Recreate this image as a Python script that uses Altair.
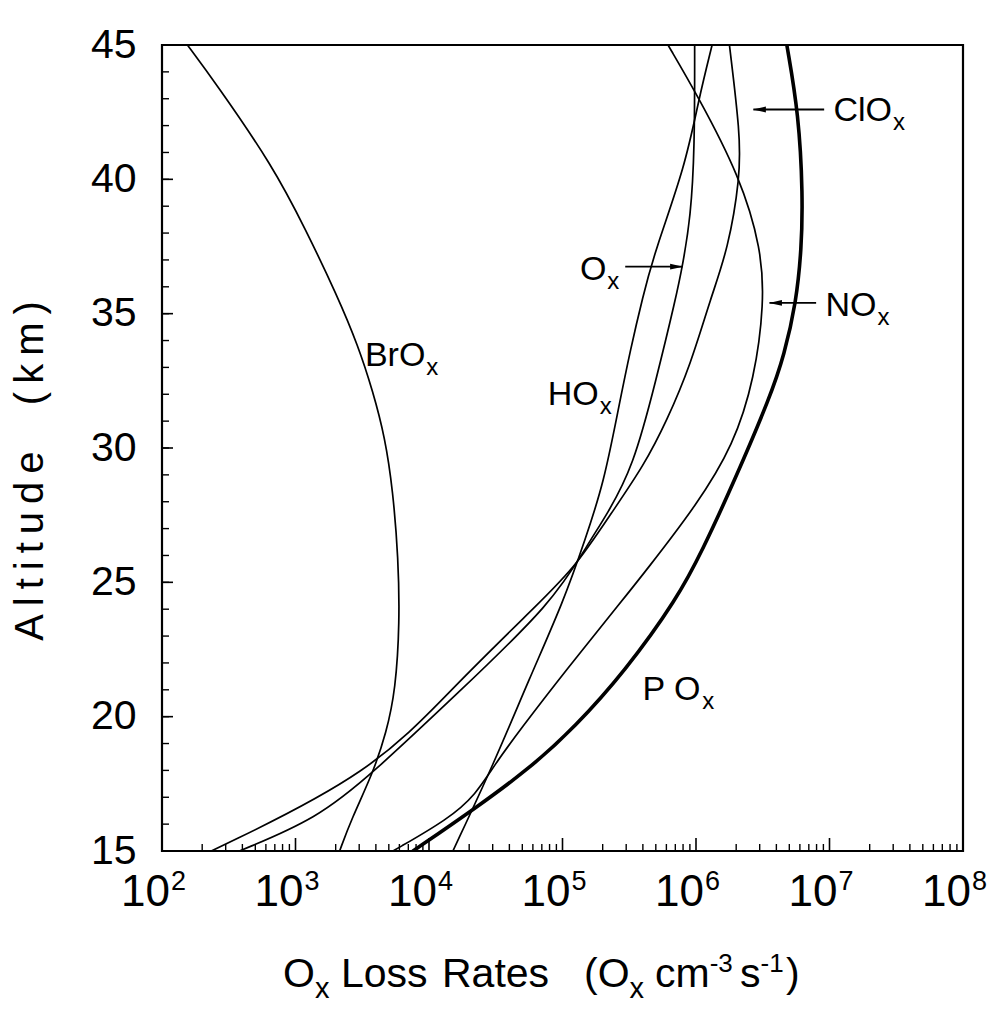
import altair as alt
import pandas as pd

# ---------------- data ----------------
brox_alt = [45, 43.6, 40.5, 38.1, 35.7, 33.8, 32.1, 30.4, 28.4, 25.9, 23.5, 21.0, 19.4, 17.9, 16.2, 15]
brox_rate = [155, 251, 676, 1200, 2040, 2950, 3800, 4680, 5370, 5890, 6030, 5620, 4790, 3800, 2630, 2140]

hox_alt = [15, 18.3, 21.4, 24.3, 26.6, 28.7, 31.5, 33.7, 35.6, 37.3, 40.5, 43.0, 45]
hox_rate = [15100, 30900, 56200, 102000, 148000, 204000, 263000, 324000, 398000, 490000, 832000, 1050000, 1320000]

ox_alt = [15, 16.2, 17.9, 20.8, 24.25, 26.5, 27.5, 29.3, 32.5, 35.6, 36.8, 38.6, 41.1, 45]
ox_rate = [380, 1450, 3800, 15800, 85100, 158000, 214000, 339000, 501000, 708000, 794000, 912000, 977000, 977000]

clox_alt = [15, 17.9, 21.2, 24.3, 25.6, 27.6, 29.35, 31.0, 33.1, 35.6, 37.4, 40.1, 41.7, 45]
clox_rate = [234, 3800, 15800, 69200, 126000, 234000, 407000, 603000, 912000, 1290000, 1740000, 2140000, 2140000, 1780000]

nox_alt = [15, 16.2, 17.1, 18.2, 19.5, 21.7, 24.4, 25.4, 27.9, 30.1, 32.6, 35.4, 37.4, 40.1, 43.15, 45]
nox_rate = [5370, 14100, 22400, 30900, 47900, 105000, 288000, 417000, 1020000, 1910000, 2750000, 3240000, 3090000, 2140000, 1020000, 617000]

pox_alt = [15, 16.6, 18.1, 19.6, 21.7, 24.4, 26.2, 28.7, 31.95, 33.45, 35.4, 37.4, 39.4, 42.4, 45]
pox_rate = [7590, 22400, 57500, 123000, 295000, 724000, 1120000, 1910000, 3630000, 4570000, 5620000, 6170000, 6310000, 5890000, 4790000]

# curve labels: (main text, subscript, rate, altitude)
curve_labels = [
    ("BrO", "x", 3310, 33.5),
    ("HO", "x", 77600, 32.05),
    ("O", "x", 135000, 36.7),
    ("NO", "x", 9330000, 35.35),
    ("ClO", "x", 10700000, 42.6),
    ("P O", "x", 398000, 21.05),
]
# pointer arrows: (rate at tail, rate at tip, altitude)
arrows = [
    (295000, 794000, 36.75),
    (7940000, 3550000, 35.4),
    (9120000, 2690000, 42.6),
]

x_major = [1e2, 1e3, 1e4, 1e5, 1e6, 1e7, 1e8]
x_exp = ["2", "3", "4", "5", "6", "7", "8"]
x_minor = [k * 10 ** n for n in range(2, 8) for k in range(2, 10)]
y_major = [15, 20, 25, 30, 35, 40, 45]
y_minor = [v for v in range(15, 46)]

x_title_runs = [("O", "main", 283), ("x", "sub", None), ("Loss", "main", 341), ("Rates", "main", 442),
                ("(O", "main", 584), ("x", "sub", None), ("cm", "main", 655), ("-3", "sup", None),
                ("s", "main", 740), ("-1", "sup", None), (")", "main", 786)]
y_title = "Altitude  (km)"

# ---------------- layout / style ----------------
W, H = 801, 806
LEFT, TOP = 162, 45
FONT = "Liberation Sans"
AW = {' ': 278, '(': 333, ')': 333, '-': 333, 'A': 667, 'B': 667, 'C': 722, 'H': 722,
      'L': 556, 'N': 722, 'O': 778, 'P': 667, 'R': 722, 'a': 556, 'c': 500, 'd': 556,
      'e': 556, 'i': 222, 'k': 500, 'l': 222, 'm': 833, 'o': 556, 'r': 333, 's': 500,
      't': 278, 'u': 556, 'x': 500}
for d in "0123456789":
    AW[d] = 556


def tw(s, fs):
    return sum(AW.get(c, 556) for c in s) * fs / 1000.0


xs = alt.Scale(type="log", domain=[1e2, 1e8], nice=False)
ys = alt.Scale(domain=[15, 45], nice=False, zero=False)

rows = []
for name, a_list, r_list, w in [
    ("BrOx", brox_alt, brox_rate, 1.7), ("HOx", hox_alt, hox_rate, 1.7),
    ("Ox", ox_alt, ox_rate, 1.7), ("ClOx", clox_alt, clox_rate, 1.7),
    ("NOx", nox_alt, nox_rate, 1.7), ("POx", pox_alt, pox_rate, 3.6)]:
    for a, r in zip(a_list, r_list):
        rows.append({"sp": name, "alt": a, "rate": r, "w": w})
df = pd.DataFrame(rows)

layers = []

lines = alt.Chart(df).mark_line(color="black", interpolate="basis", clip=True,
                                strokeCap="round", strokeJoin="round").encode(
    x=alt.X("rate:Q", scale=xs, axis=None),
    y=alt.Y("alt:Q", scale=ys, axis=alt.Axis(values=y_major, labelFontSize=41, labelFont=FONT,
                                              labelColor="black", labelPadding=26, ticks=False,
                                              domain=False, grid=False, title=None,
                                              labelFlush=False, labelOverlap=False)),
    detail="sp:N",
    order=alt.Order("alt:Q"),
    strokeWidth=alt.StrokeWidth("w:Q", scale=None, legend=None),
)
layers.append(lines)

# inward ticks
tick_x_major = alt.Chart(pd.DataFrame({"v": x_major})).mark_rule(color="black", strokeWidth=1.6).encode(
    x=alt.X("v:Q", scale=xs), y=alt.value(H), y2=alt.value(H - 13))
tick_x_minor = alt.Chart(pd.DataFrame({"v": x_minor})).mark_rule(color="black", strokeWidth=1.4).encode(
    x=alt.X("v:Q", scale=xs), y=alt.value(H), y2=alt.value(H - 7))
tick_y_major = alt.Chart(pd.DataFrame({"v": y_major})).mark_rule(color="black", strokeWidth=1.6).encode(
    y=alt.Y("v:Q", scale=ys), x=alt.value(0), x2=alt.value(11))
tick_y_minor = alt.Chart(pd.DataFrame({"v": y_minor})).mark_rule(color="black", strokeWidth=1.4).encode(
    y=alt.Y("v:Q", scale=ys), x=alt.value(0), x2=alt.value(7))
layers += [tick_x_major, tick_x_minor, tick_y_major, tick_y_minor]

# x tick labels 10^n
xl = pd.DataFrame({"v": x_major, "base": ["10"] * len(x_major), "sup": x_exp})
BF, SUPF = 44, 27
base_w = tw("10", BF)
sup_w = tw("2", SUPF)
shift = (base_w + sup_w) / 2 - sup_w - 9
layers.append(alt.Chart(xl).mark_text(font=FONT, fontSize=BF, align="right", baseline="alphabetic",
                                      dx=shift, color="black").encode(
    x=alt.X("v:Q", scale=xs), y=alt.value(H + 55), text="base:N"))
layers.append(alt.Chart(xl).mark_text(font=FONT, fontSize=SUPF, align="left", baseline="alphabetic",
                                      dx=shift + 1, color="black").encode(
    x=alt.X("v:Q", scale=xs), y=alt.value(H + 39), text="sup:N"))

# curve labels with subscripts
LF, SF = 34, 24
for main, sub, r, a in curve_labels:
    d = pd.DataFrame({"rate": [r], "alt": [a], "t": [main], "s": [sub]})
    layers.append(alt.Chart(d).mark_text(font=FONT, fontSize=LF, align="left", baseline="alphabetic",
                                         dy=12, color="black").encode(
        x=alt.X("rate:Q", scale=xs), y=alt.Y("alt:Q", scale=ys), text="t:N"))
    layers.append(alt.Chart(d).mark_text(font=FONT, fontSize=SF, align="left", baseline="alphabetic",
                                         dx=tw(main, LF) + 1, dy=21, color="black").encode(
        x=alt.X("rate:Q", scale=xs), y=alt.Y("alt:Q", scale=ys), text="s:N"))

# arrows
LEFT_HEAD = "M -1 0 L 1 -0.45 L 1 0.45 Z"
RIGHT_HEAD = "M 1 0 L -1 -0.45 L -1 0.45 Z"
for r0, r1, a in arrows:
    d = pd.DataFrame({"r0": [r0], "r1": [r1], "alt": [a]})
    layers.append(alt.Chart(d).mark_rule(color="black", strokeWidth=1.8).encode(
        x=alt.X("r0:Q", scale=xs), x2="r1:Q", y=alt.Y("alt:Q", scale=ys)))
    pointing_left = r1 < r0
    layers.append(alt.Chart(d).mark_point(shape=LEFT_HEAD if pointing_left else RIGHT_HEAD,
                                          filled=True, color="black", opacity=1, size=169,
                                          xOffset=6 if pointing_left else -6).encode(
        x=alt.X("r1:Q", scale=xs), y=alt.Y("alt:Q", scale=ys)))

# x axis title built from text runs (sub/superscripts)
one = pd.DataFrame({"a": [0]})
TF, TS, TP = 41, 29, 26
BASE_Y = 987
prev_end = 0
for txt, kind, xabs in x_title_runs:
    fs = {"main": TF, "sub": TS, "sup": TP}[kind]
    off = {"main": 0, "sub": 11, "sup": -15}[kind]
    xpos = xabs if xabs is not None else prev_end
    layers.append(alt.Chart(one).mark_text(font=FONT, fontSize=fs, align="left", baseline="alphabetic",
                                           color="black").encode(
        x=alt.value(xpos - LEFT), y=alt.value(BASE_Y - TOP + off), text=alt.value(txt)))
    prev_end = xpos + tw(txt, fs)

# y axis title (letter-spaced like the reference)
spaced = "\u2009".join(list(y_title))
layers.append(alt.Chart(one).mark_text(font=FONT, fontSize=40, align="center", baseline="alphabetic",
                                       angle=270, color="black").encode(
    x=alt.value(43 - LEFT), y=alt.value(471 - TOP), text=alt.value(spaced)))

chart = alt.layer(*layers).properties(
    width=W, height=H,
    autosize=alt.AutoSizeParams(type="none"),
    padding={"left": LEFT, "top": TOP, "right": 993 - LEFT - W, "bottom": 1011 - TOP - H},
    background="white",
).configure_view(stroke="black", strokeWidth=2.2)

chart.save("out.html", embed_options={"renderer": "svg", "actions": False})
